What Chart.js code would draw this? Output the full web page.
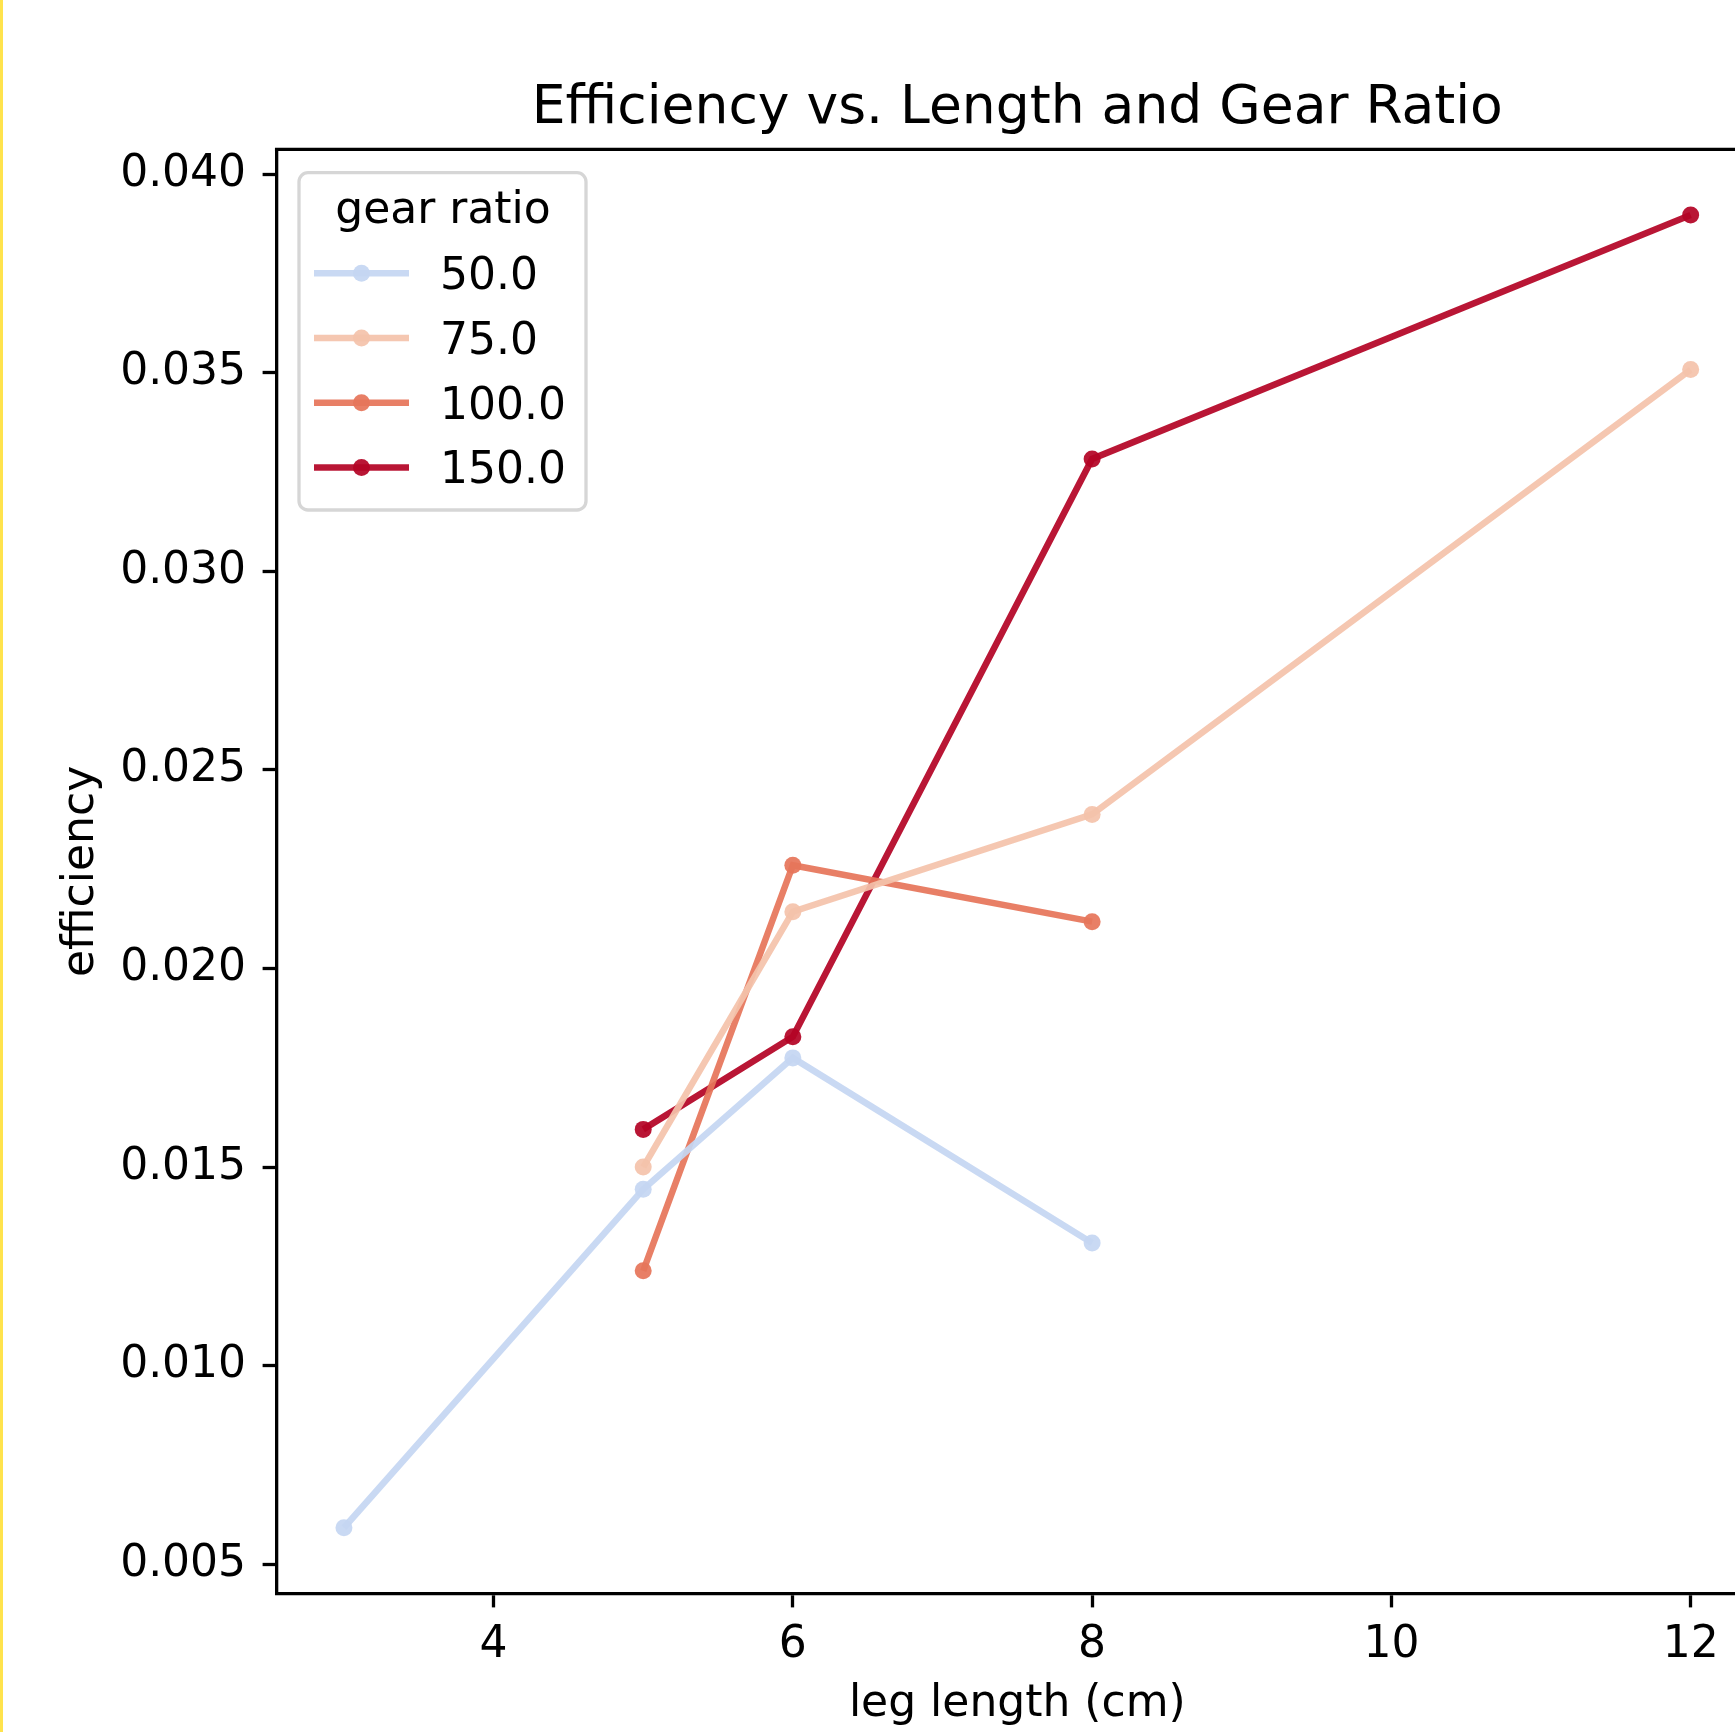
<!DOCTYPE html>
<html>
<head>
<meta charset="utf-8">
<script src="https://cdn.jsdelivr.net/npm/chart.js@4.4.1/dist/chart.umd.min.js"></script>
<style>
html, body { margin:0; padding:0; background:#fff; overflow:hidden; width:1735px; height:1732px; }
#wrap { position:absolute; left:0; top:0; width:1800px; height:1732px; }
#edge { position:absolute; left:0; top:0; width:3px; height:1732px; background:#ffe34d; z-index:2; }
</style>
</head>
<body>
<div id="wrap"><canvas id="c" width="1800" height="1732"></canvas></div>
<div id="edge"></div>
<script>
// ---- text ----
const chartTitle = "Efficiency vs. Length and Gear Ratio";
const xLabel = "leg length (cm)";
const yLabel = "efficiency";
const legendTitle = "gear ratio";

// ---- data ----
const gearRatios = ["50.0", "75.0", "100.0", "150.0"];
const len50  = [3, 5, 6, 8];
const eff50  = [0.00592, 0.01444, 0.01775, 0.01309];
const len75  = [5, 6, 8, 12];
const eff75  = [0.01500, 0.02143, 0.02388, 0.03508];
const len100 = [5, 6, 8];
const eff100 = [0.01239, 0.02260, 0.02118];
const len150 = [5, 6, 8, 12];
const eff150 = [0.01595, 0.01828, 0.03283, 0.03897];

const xTicks = [4, 6, 8, 10, 12];
const yTicks = [0.005, 0.010, 0.015, 0.020, 0.025, 0.030, 0.035, 0.040];

// ---- styles ----
const seriesColors = [
  'rgba(197,214,242,0.93)',
  'rgba(244,195,171,0.93)',
  'rgba(230,117,90,0.93)',
  'rgba(180,4,38,0.93)'
];
const FONT = "'DejaVu Sans'";
const FS = 44;
const TITLE_FS = 53.5;
const LINE_W = 6.5;
const PT_R = 8.5;

const seriesLens = [len50, len75, len100, len150];
const seriesEffs = [eff50, eff75, eff100, eff150];

const datasets = gearRatios.map((g, i) => ({
  label: g,
  data: seriesLens[i].map((x, j) => ({ x: x, y: seriesEffs[i][j] })),
  borderColor: seriesColors[i],
  backgroundColor: seriesColors[i],
  pointBackgroundColor: seriesColors[i],
  pointBorderWidth: 0,
  pointRadius: PT_R,
  borderWidth: LINE_W,
  tension: 0,
  fill: false
}));

// matplotlib-like 5% margins
const allX = [].concat(...seriesLens), allY = [].concat(...seriesEffs);
const xMinD = Math.min(...allX), xMaxD = Math.max(...allX);
const yMinD = Math.min(...allY), yMaxD = Math.max(...allY);
const xPad = (xMaxD - xMinD) * 0.05, yPad = (yMaxD - yMinD) * 0.05;

Chart.defaults.font.family = FONT;
Chart.defaults.color = '#000';

const framePlugin = {
  id: 'frame',
  afterDatasetsDraw(chart) {
    const { ctx, chartArea: a } = chart;
    ctx.save();
    ctx.strokeStyle = '#000';
    ctx.lineWidth = 3.3;
    ctx.beginPath();
    ctx.moveTo(a.left - 1.65, a.top);
    ctx.lineTo(a.right + 1.65, a.top);
    ctx.moveTo(a.right, a.top);
    ctx.lineTo(a.right, a.bottom);
    ctx.stroke();
    ctx.restore();
  }
};

const titlePlugin = {
  id: 'mplTitle',
  afterDraw(chart) {
    const { ctx, chartArea: a } = chart;
    ctx.save();
    ctx.font = TITLE_FS + "px " + FONT;
    ctx.fillStyle = '#000';
    ctx.textAlign = 'center';
    ctx.textBaseline = 'alphabetic';
    ctx.fillText(chartTitle, (a.left + a.right) / 2, 123);
    ctx.restore();
  }
};

const legendPlugin = {
  id: 'mplLegend',
  afterDatasetsDraw(chart) {
    const { ctx, chartArea: a } = chart;
    const bx = a.left + 22.4, by = a.top + 23.3, bw = 287, bh = 337.3;
    ctx.save();
    ctx.beginPath();
    ctx.roundRect(bx, by, bw, bh, 9);
    ctx.fillStyle = 'rgba(255,255,255,0.8)';
    ctx.fill();
    ctx.lineWidth = 3.3;
    ctx.strokeStyle = '#d6d6d6';
    ctx.stroke();

    ctx.fillStyle = '#000';
    ctx.font = FS + "px " + FONT;
    ctx.textAlign = 'center';
    ctx.textBaseline = 'alphabetic';
    ctx.fillText(legendTitle, bx + 144, by + 50.6);

    chart.data.datasets.forEach((ds, i) => {
      const cy = by + 100.6 + i * 64.7;
      const x1 = bx + 15, x2 = bx + 110, xm = (x1 + x2) / 2;
      ctx.strokeStyle = ds.borderColor;
      ctx.lineWidth = LINE_W;
      ctx.beginPath();
      ctx.moveTo(x1, cy);
      ctx.lineTo(x2, cy);
      ctx.stroke();
      ctx.fillStyle = ds.pointBackgroundColor;
      ctx.beginPath();
      ctx.arc(xm, cy, PT_R, 0, Math.PI * 2);
      ctx.fill();
      ctx.fillStyle = '#000';
      ctx.textAlign = 'left';
      ctx.fillText(ds.label, bx + 141, cy + 16);
    });
    ctx.restore();
  }
};

new Chart(document.getElementById('c'), {
  type: 'line',
  data: { datasets: datasets },
  plugins: [framePlugin, legendPlugin, titlePlugin],
  options: {
    responsive: false,
    animation: false,
    devicePixelRatio: 1,
    layout: { padding: { left: 0, right: 42, top: 149.4, bottom: 0 } },
    plugins: { legend: { display: false }, tooltip: { enabled: false }, title: { display: false } },
    scales: {
      x: {
        type: 'linear',
        min: xMinD - xPad,
        max: xMaxD + xPad,
        afterBuildTicks: s => { s.ticks = xTicks.map(v => ({ value: v })); },
        afterFit: s => { s.height = 138.6; },
        grid: { display: true, drawOnChartArea: false, drawTicks: true, tickLength: 14, tickWidth: 3.3, tickColor: '#000', color: '#000' },
        border: { display: true, color: '#000', width: 3.3 },
        ticks: { font: { size: FS }, color: '#000', padding: 12, maxRotation: 0, minRotation: 0, autoSkip: false, callback: v => String(v) },
        title: { display: true, text: xLabel, font: { size: FS }, color: '#000', padding: { top: 0, bottom: 1.5 } }
      },
      y: {
        type: 'linear',
        min: yMinD - yPad,
        max: yMaxD + yPad,
        afterBuildTicks: s => { s.ticks = yTicks.map(v => ({ value: v })); },
        afterFit: s => { s.width = 276.6; },
        grid: { display: true, drawOnChartArea: false, drawTicks: true, tickLength: 14, tickWidth: 3.3, tickColor: '#000', color: '#000' },
        border: { display: true, color: '#000', width: 3.3 },
        ticks: { font: { size: FS }, color: '#000', padding: 16.5, autoSkip: false, callback: v => v.toFixed(3) },
        title: { display: true, text: yLabel, font: { size: FS }, color: '#000', padding: { top: 55, bottom: 0 } }
      }
    }
  }
});
</script>
</body>
</html>
